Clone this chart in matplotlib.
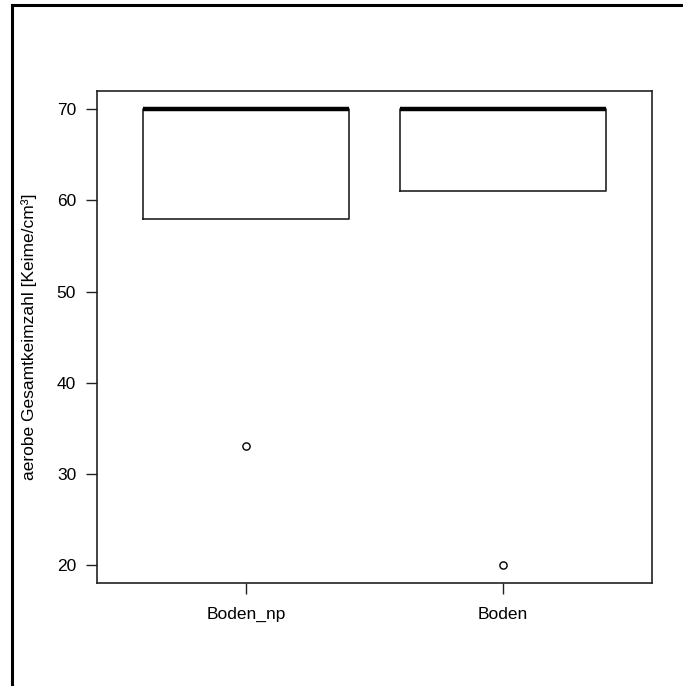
import matplotlib
matplotlib.use("Agg")
import matplotlib.pyplot as plt
from matplotlib.lines import Line2D

# Keimzahlen je Probe (Boxplot-Kennwerte)
groups = ["Boden_np", "Boden"]
q1 = [58, 61]
median = [70, 70]
q3 = [70, 70]
whis_lo = [58, 61]
whis_hi = [70, 70]
outliers = [[33], [20]]
yticks = [20, 30, 40, 50, 60, 70]

plt.rcParams['font.family'] = ['Liberation Sans', 'DejaVu Sans']

fig = plt.figure(figsize=(6.83, 6.86), dpi=100)
ax = fig.add_axes([0.142, 0.150, 0.8126, 0.7172])

stats = []
for i, name in enumerate(groups):
    stats.append(dict(label=name, q1=q1[i], med=median[i], q3=q3[i],
                      whislo=whis_lo[i], whishi=whis_hi[i], fliers=outliers[i]))

ax.bxp(stats, positions=[1, 2], widths=0.8, showfliers=True, showcaps=False,
       boxprops=dict(color='#222222', linewidth=1.2),
       medianprops=dict(color='black', linewidth=3.2, solid_capstyle='butt'),
       whiskerprops=dict(color='#222222', linewidth=1.0, linestyle='--'),
       flierprops=dict(marker='o', markersize=5.2, markerfacecolor='none',
                       markeredgecolor='black', markeredgewidth=1.0))

ax.set_xlim(0.42, 2.58)
ax.set_ylim(18.0, 72.0)
ax.set_yticks(yticks)
ax.set_xticks([1, 2])
ax.set_xticklabels(groups)
ax.tick_params(axis='both', length=8, width=1.0, color='#222222', labelsize=12.5)
ax.tick_params(axis='y', pad=7)
ax.tick_params(axis='x', pad=9)
for s in ax.spines.values():
    s.set_linewidth(1.2)
    s.set_color('#222222')

ax.set_ylabel("aerobe Gesamtkeimzahl [Keime/cm³]", fontsize=12.5, labelpad=14)

# Rahmen des Grafikfensters (links und oben)
fig.add_artist(Line2D([12 / 683, 12 / 683], [0, 1 - 5 / 686], transform=fig.transFigure,
                      color='black', linewidth=2.2))
fig.add_artist(Line2D([12 / 683, 1], [1 - 5 / 686, 1 - 5 / 686], transform=fig.transFigure,
                      color='black', linewidth=2.2))

fig.savefig("out.png", dpi=100)
